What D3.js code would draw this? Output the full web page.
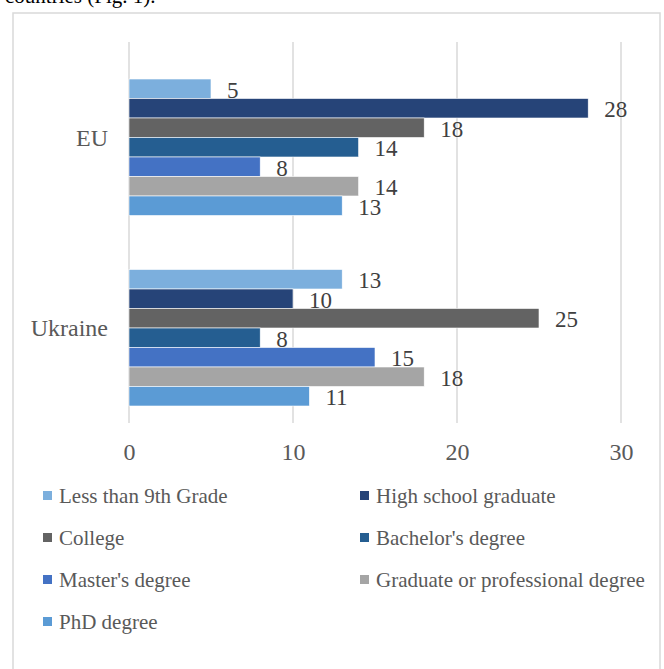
<!DOCTYPE html>
<html>
<head>
<meta charset="utf-8">
<script src="https://cdn.jsdelivr.net/npm/d3@7"></script>
<style>
  html, body { margin: 0; padding: 0; background: #fff; }
  svg { display: block; }
  text { font-family: "Liberation Serif", "Times New Roman", serif; }
</style>
</head>
<body>
<svg id="chart" width="664" height="669"></svg>
<script>
const categories = ["EU", "Ukraine"];
const seriesNames = ["Less than 9th Grade", "High school graduate", "College", "Bachelor's degree",
  "Master's degree", "Graduate or professional degree", "PhD degree"];
const euValues = [5, 28, 18, 14, 8, 14, 13];
const ukraineValues = [13, 10, 25, 8, 15, 18, 11];
const tickValues = [0, 10, 20, 30];
const seriesColors = ["#7CAFDD", "#264478", "#636363", "#255E91", "#4472C4", "#A5A5A5", "#5B9BD5"];

const valuesByCategory = { "EU": euValues, "Ukraine": ukraineValues };

const svg = d3.select("#chart");

// Paragraph text above the chart (cut off at the top edge, as in the reference)
svg.append("text")
  .attr("x", 5).attr("y", 3)
  .attr("font-size", 21).attr("fill", "#000")
  .text("countries (Fig. 1).");

// Chart border
svg.append("rect")
  .attr("x", 13).attr("y", 13).attr("width", 647).attr("height", 700)
  .attr("fill", "none").attr("stroke", "#d9d9d9").attr("stroke-width", 1.5);

const plotTop = 42, plotBottom = 423;
const x = d3.scaleLinear().domain([0, 30]).range([129, 621]);
const y = d3.scaleBand().domain(categories).range([plotTop, plotBottom]);
const inner = d3.scaleBand().domain(seriesNames).range([37, 173.5]);

// Gridlines
svg.append("g").selectAll("line").data(tickValues).join("line")
  .attr("x1", d => x(d)).attr("x2", d => x(d))
  .attr("y1", plotTop).attr("y2", plotBottom)
  .attr("stroke", "#d9d9d9").attr("stroke-width", 1.5);

// Bars
const groups = svg.append("g").selectAll("g").data(categories).join("g")
  .attr("transform", c => `translate(0,${y(c)})`);

groups.selectAll("rect")
  .data(c => seriesNames.map((s, i) => ({ s, i, v: valuesByCategory[c][i] })))
  .join("rect")
  .attr("x", x(0))
  .attr("y", d => inner(d.s))
  .attr("width", d => x(d.v) - x(0))
  .attr("height", inner.bandwidth())
  .attr("fill", d => seriesColors[d.i])
  .attr("stroke", "#fff").attr("stroke-width", 0.6);

groups.selectAll("text.val")
  .data(c => seriesNames.map((s, i) => ({ s, i, v: valuesByCategory[c][i] })))
  .join("text").attr("class", "val")
  .attr("x", d => x(d.v) + 16)
  .attr("y", d => inner(d.s) + inner.bandwidth() / 2 + 1)
  .attr("dy", "0.35em")
  .attr("font-size", 23).attr("fill", "#404040")
  .text(d => d.v);

// Category labels
svg.append("g").selectAll("text").data(categories).join("text")
  .attr("x", 108)
  .attr("y", c => y(c) + y.bandwidth() / 2)
  .attr("dy", "0.35em")
  .attr("text-anchor", "end")
  .attr("font-size", 24).attr("fill", "#595959")
  .text(c => c);

// X axis tick labels
const xAxis = d3.axisBottom(x).tickValues(tickValues).tickSize(0).tickPadding(0);
const axisG = svg.append("g").attr("transform", `translate(0,${plotBottom})`).call(xAxis);
axisG.select(".domain").remove();
axisG.selectAll("text")
  .attr("y", 29).attr("dy", "0.35em")
  .attr("font-size", 24).attr("fill", "#595959")
  .attr("font-family", "Liberation Serif, Times New Roman, serif");

// Legend
const legend = svg.append("g").selectAll("g").data(seriesNames).join("g")
  .attr("transform", (d, i) => `translate(${i % 2 === 0 ? 43 : 360},${495.5 + Math.floor(i / 2) * 42})`);
legend.append("rect")
  .attr("x", 0).attr("y", -4.5).attr("width", 9).attr("height", 9)
  .attr("fill", (d, i) => seriesColors[i]);
legend.append("text")
  .attr("x", 16).attr("y", 0).attr("dy", "0.35em")
  .attr("font-size", 21).attr("fill", "#595959")
  .text(d => d);
</script>
</body>
</html>
